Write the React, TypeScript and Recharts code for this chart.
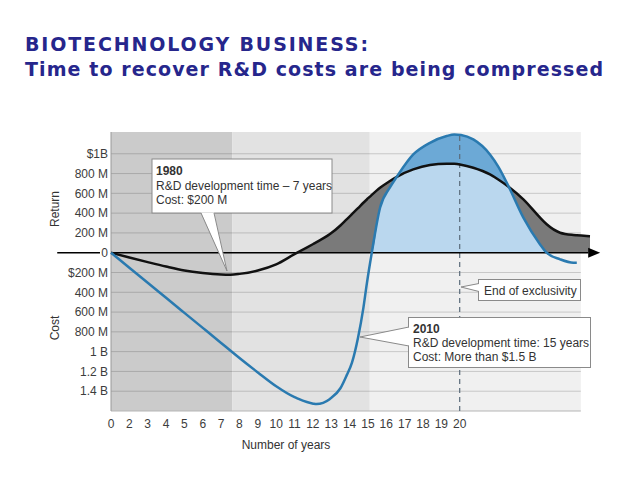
import { ComposedChart, Area, Line, XAxis, YAxis, ReferenceArea, ReferenceLine, ReferenceDot } from "recharts";

const FONT = '"Liberation Sans", Arial, sans-serif';

// x is the slot on the axis (slot 0 is labelled "0", slot 1 is "2", ... slot 19 is "20")
const positions = [
  0, 1, 2, 3, 4, 5, 6, 6.5, 7, 8, 9, 10, 10.15, 11.02, 11.2, 11.93, 12.5, 12.84, 13.13, 13.46,
  13.75, 13.95, 14.21, 14.66, 15.2, 15.57, 16.47, 17.38, 18.29, 18.7, 19.07, 19.74, 20.65, 21.1,
  21.68, 22.47, 23.38, 23.74, 24.47, 25.19, 25.38, 25.92, 26.1,
];

// $M, return above zero, cost below
const return1980 = [
  0, -48, -95, -140, -180, -205, -220, -222, -214, -180, -118, -15, 0, 88, 106, 188, 275, 337, 390,
  450, 505, 540, 585, 657, 725, 767, 842, 886, 899, 898, 890, 859, 791, 740, 664, 539, 354, 287,
  202, 179, 176, 169, 167,
];

const return2010 = [
  0, -152, -304, -456, -608, -760, -912, -988, -1064, -1210, -1350, -1460, -1472, -1526, -1530,
  -1478, -1370, -1240, -1111, -859, -560, -300, 0, 455, 660, 767, 993, 1111, 1179, 1195, 1190,
  1145, 993, 870, 664, 354, 84, 0, -67, -101, -101, null, null,
];

const xTickLabels = ["0", "2", "3", "4", "5", "6", "7", "8", "9", "10", "11", "12", "13", "14", "15", "16", "17", "18", "19", "20"];
const yTickValues = [1000, 800, 600, 400, 200, 0, -200, -400, -600, -800, -1000, -1200, -1400];
const yTickLabels = ["$1B", "800 M", "600 M", "400 M", "200 M", "0", "$200 M", "400 M", "600 M", "800 M", "1 B", "1.2 B", "1.4 B"];

const eraBounds = [0, 6.6, 14.1, 25.6];
const exclusivityEnd = 19;

const eraColors = ["#cbcbcb", "#e2e2e2", "#f0f0f0"];

const rows = positions.map((x, i) => {
  const a = return1980[i];
  const b = return2010[i];
  return {
    x,
    y1980: a,
    y2010: b,
    grayFill: Math.max(a, 0),
    blueFill: b == null ? null : Math.max(b, 0),
    overlapFill: b == null ? null : Math.min(Math.max(a, 0), Math.max(b, 0)),
  };
});

const Arrowhead = (props: any) => {
  const { cx, cy } = props;
  return <polygon points={`${cx},${cy - 5} ${cx + 12},${cy} ${cx},${cy + 5}`} fill="#000" />;
};

function Overlay() {
  const boxStroke = "#8a8a8a";
  const txt = { fontFamily: FONT, fontSize: 12, fill: "#333" };
  return (
    <svg width={640} height={480} style={{ position: "absolute", left: 0, top: 0, pointerEvents: "none" }}>
      <g fontFamily='"DejaVu Sans", Verdana, sans-serif' fontWeight="bold" fontSize={19} fill="#26268c">
        <text x={25} y={51} textLength={343} lengthAdjust="spacing">BIOTECHNOLOGY BUSINESS:</text>
        <text x={25} y={75.5} textLength={578} lengthAdjust="spacing">Time to recover R&amp;D costs are being compressed</text>
      </g>

      <text transform="translate(55,209) rotate(-90)" textAnchor="middle" dominantBaseline="central" {...txt}>Return</text>
      <text transform="translate(55,328) rotate(-90)" textAnchor="middle" dominantBaseline="central" {...txt}>Cost</text>
      <text x={286} y={449} textAnchor="middle" {...txt}>Number of years</text>

      {/* 1980 callout */}
      <rect x={152} y={159} width={180} height={54} fill="#fff" stroke={boxStroke} />
      <polygon points="201,212.5 227,271 214,212.5" fill="#fff" />
      <polyline points="201,213 227,271 214,213" fill="none" stroke={boxStroke} />
      <text x={156} y={175} {...txt} fontWeight="bold">1980</text>
      <text x={156} y={190} {...txt}>R&amp;D development time – 7 years</text>
      <text x={156} y={203.5} {...txt}>Cost: $200 M</text>

      {/* end of exclusivity callout */}
      <rect x={478.5} y={279.5} width={102} height={21} fill="#fff" stroke={boxStroke} />
      <polygon points="480,283.5 461,287 480,291.5" fill="#fff" />
      <polyline points="479,283.5 461,287 479,291.5" fill="none" stroke={boxStroke} />
      <text x={484} y={295} {...txt}>End of exclusivity</text>

      {/* 2010 callout */}
      <rect x={408.5} y={317.5} width={182} height={50} fill="#fff" stroke={boxStroke} />
      <polygon points="410,327 360,337 410,346" fill="#fff" />
      <polyline points="409,327 360,337 409,346" fill="none" stroke={boxStroke} />
      <text x={413} y={333} {...txt} fontWeight="bold">2010</text>
      <text x={413} y={347} {...txt}>R&amp;D development time: 15 years</text>
      <text x={413} y={360.5} {...txt}>Cost: More than $1.5 B</text>
    </svg>
  );
}

export default function App() {
  const tickStyle = { fontFamily: FONT, fontSize: 12, fill: "#3c3c3c" };
  return (
    <div style={{ position: "absolute", left: 0, top: 0, width: 640, height: 480, background: "#fff" }}>
      <ComposedChart width={640} height={480} data={rows} margin={{ top: 132, right: 50, bottom: 39, left: 51 }}>
        <XAxis
          type="number"
          dataKey="x"
          domain={[0, 26.1]}
          ticks={xTickLabels.map((_, i) => i)}
          tickFormatter={(v: number) => xTickLabels[v]}
          interval={0}
          axisLine={false}
          tickLine={false}
          height={30}
          tick={tickStyle}
        />
        <YAxis
          type="number"
          domain={[-1600, 1220]}
          ticks={yTickValues}
          tickFormatter={(v: number) => yTickLabels[yTickValues.indexOf(v)]}
          interval={0}
          axisLine={false}
          tickLine={false}
          tickSize={0}
          tickMargin={3}
          width={60}
          tick={tickStyle}
        />

        {eraColors.map((c, i) => (
          <ReferenceArea key={c} x1={eraBounds[i]} x2={eraBounds[i + 1]} fill={c} fillOpacity={1} stroke="none" ifOverflow="visible" zIndex={-200} />
        ))}
        {yTickValues.filter((v) => v !== 0).map((v) => (
          <ReferenceLine
            key={v}
            segment={[{ x: 0, y: v }, { x: eraBounds[3], y: v }]}
            stroke="#000"
            strokeOpacity={0.17}
            ifOverflow="visible"
            zIndex={-150}
          />
        ))}
        <ReferenceLine segment={[{ x: 0, y: -1600 }, { x: eraBounds[3], y: -1600 }]} stroke="#b5b5b5" ifOverflow="visible" zIndex={-150} />
        <ReferenceLine segment={[{ x: 0, y: -1600 }, { x: 0, y: 1220 }]} stroke="#9a9a9a" ifOverflow="visible" zIndex={-150} />

        <Area dataKey="grayFill" type="monotone" baseValue={0} fill="#7a7a7a" fillOpacity={1} stroke="none" isAnimationActive={false} />
        <Area dataKey="blueFill" type="monotone" baseValue={0} fill="#6ca9d6" fillOpacity={1} stroke="none" isAnimationActive={false} />
        <Area dataKey="overlapFill" type="monotone" baseValue={0} fill="#bad7ee" fillOpacity={1} stroke="none" isAnimationActive={false} />

        <ReferenceLine x={exclusivityEnd} stroke="#5b6b7b" strokeWidth={1.2} strokeDasharray="5 4" />

        <ReferenceLine segment={[{ x: -2.93, y: 0 }, { x: -0.6, y: 0 }]} stroke="#000" strokeWidth={1.5} ifOverflow="visible" />
        <ReferenceLine segment={[{ x: 0, y: 0 }, { x: 26.0, y: 0 }]} stroke="#000" strokeWidth={1.5} ifOverflow="visible" />
        <ReferenceDot x={26.0} y={0} shape={Arrowhead} ifOverflow="visible" />

        <Line dataKey="y1980" type="monotone" stroke="#111" strokeWidth={2.5} dot={false} activeDot={false} isAnimationActive={false} />
        <Line dataKey="y2010" type="monotone" stroke="#2a7ab0" strokeWidth={2.5} dot={false} activeDot={false} isAnimationActive={false} />
      </ComposedChart>
      <Overlay />
    </div>
  );
}
